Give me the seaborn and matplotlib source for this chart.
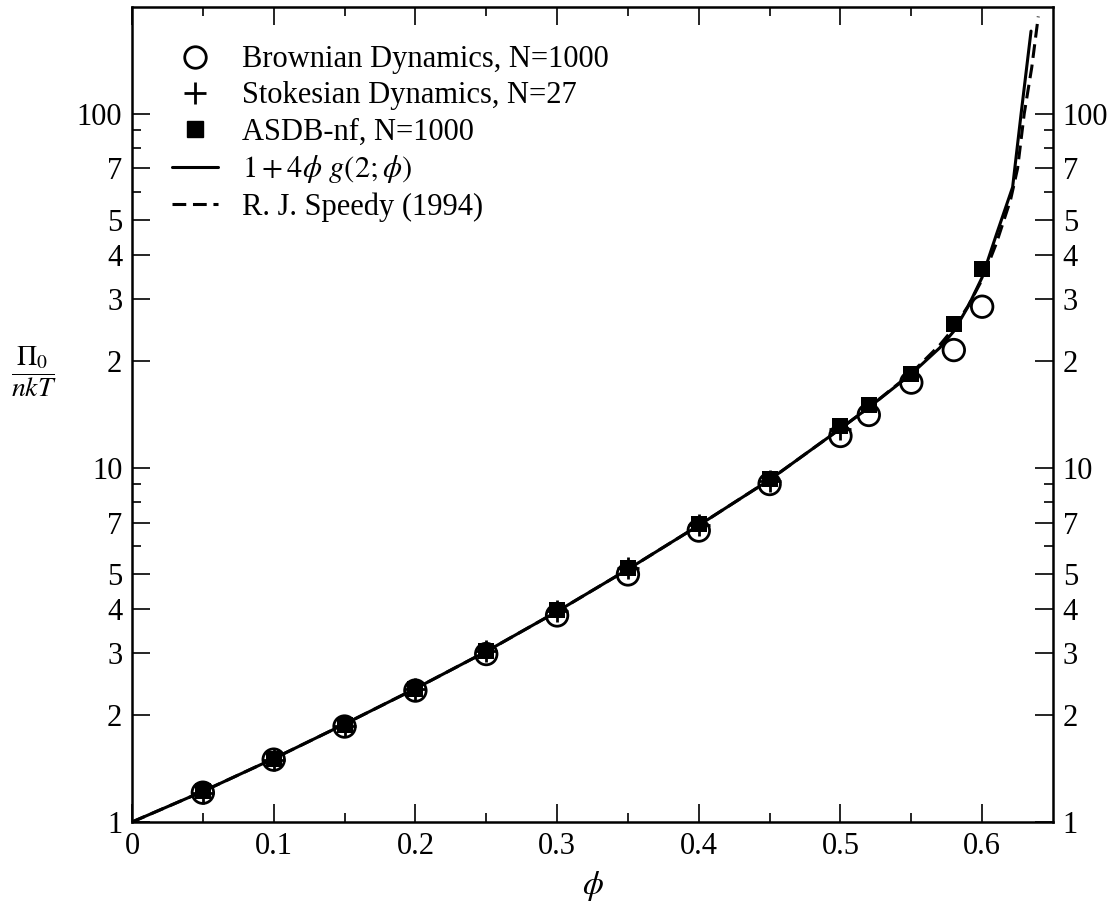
import numpy as np
import pandas as pd
import matplotlib
matplotlib.use("Agg")
import matplotlib.pyplot as plt
from matplotlib.lines import Line2D
import seaborn as sns

# ---- data ----
phi_bd = [0.05, 0.10, 0.15, 0.20, 0.25, 0.30, 0.35, 0.40, 0.45, 0.50, 0.52, 0.55, 0.58, 0.60]
p_bd = [1.21, 1.50, 1.86, 2.35, 2.98, 3.83, 5.00, 6.65, 9.00, 12.3, 14.1, 17.4, 21.5, 28.5]

phi_sd = [0.05, 0.10, 0.15, 0.20, 0.25, 0.30, 0.35, 0.40, 0.45, 0.50]
p_sd = [1.21, 1.50, 1.87, 2.37, 3.03, 3.95, 5.20, 6.90, 9.20, 12.9]

phi_asdb = [0.05, 0.10, 0.15, 0.20, 0.25, 0.30, 0.35, 0.40, 0.45, 0.50, 0.52, 0.55, 0.58, 0.60]
p_asdb = [1.22, 1.51, 1.88, 2.38, 3.03, 3.98, 5.22, 6.95, 9.30, 13.1, 15.0, 18.4, 25.5, 36.4]

phi_theory = [0.0, 0.05, 0.10, 0.15, 0.20, 0.25, 0.30, 0.35, 0.40, 0.45, 0.50, 0.52, 0.55,
              0.57, 0.58, 0.59, 0.60, 0.61, 0.6215, 0.6275, 0.6345]
p_theory = [1.0, 1.22, 1.51, 1.89, 2.38, 3.03, 3.93, 5.17, 6.88, 9.25, 12.9, 14.8, 18.4,
            21.8, 24.3, 28.5, 34.5, 45.5, 62.0, 100.0, 171.0]

phi_speedy = [0.0, 0.05, 0.10, 0.15, 0.20, 0.25, 0.30, 0.35, 0.40, 0.45, 0.50, 0.52, 0.55,
              0.57, 0.58, 0.59, 0.60, 0.61, 0.62, 0.625, 0.6297, 0.635, 0.6396]
p_speedy = [1.0, 1.22, 1.51, 1.89, 2.38, 3.03, 3.93, 5.17, 6.88, 9.25, 12.9, 14.8, 18.5,
            22.2, 24.8, 28.6, 34.0, 43.0, 57.0, 70.0, 100.0, 135.0, 188.0]

xtick_vals = [0, 0.1, 0.2, 0.3, 0.4, 0.5, 0.6]
xtick_labels = ["0", "0.1", "0.2", "0.3", "0.4", "0.5", "0.6"]
ytick_vals = [1, 2, 3, 4, 5, 7, 10, 20, 30, 40, 50, 70, 100]
ytick_labels = ["1", "2", "3", "4", "5", "7", "10", "2", "3", "4", "5", "7", "100"]
yminor_vals = [6, 8, 9, 60, 80, 90]

labels = ["Brownian Dynamics, N=1000", "Stokesian Dynamics, N=27", "ASDB-nf, N=1000",
          r"$1 + 4\phi\ g(2;\phi)$", "R. J. Speedy (1994)"]

# ---- style ----
sns.set_theme(style="ticks")
plt.rcParams["font.family"] = ["Liberation Serif", "DejaVu Serif"]
plt.rcParams["mathtext.fontset"] = "stix"
plt.rcParams["axes.linewidth"] = 1.8
plt.rcParams["text.color"] = "black"
plt.rcParams["axes.labelcolor"] = "black"
plt.rcParams["xtick.color"] = "black"
plt.rcParams["ytick.color"] = "black"
plt.rcParams["axes.edgecolor"] = "black"

fig = plt.figure(figsize=(11.19, 9.05), dpi=100)
ax = fig.add_axes([132 / 1119, 1 - 822 / 905, (1053 - 132) / 1119, (822 - 7) / 905])
ax.set_yscale("log")

df_th = pd.DataFrame({"phi": phi_theory, "p": p_theory})
df_sp = pd.DataFrame({"phi": phi_speedy, "p": p_speedy})
sns.lineplot(data=df_sp, x="phi", y="p", ax=ax, color="black", lw=2.2,
             sort=False, estimator=None, linestyle=(0, (4.5, 2.2)))
sns.lineplot(data=df_th, x="phi", y="p", ax=ax, color="black", lw=2.2,
             sort=False, estimator=None)

sns.scatterplot(x=phi_bd, y=p_bd, ax=ax, marker="o", s=15.5 ** 2,
                facecolors="none", edgecolor="black", linewidth=2.0, zorder=3)
sns.scatterplot(x=phi_asdb, y=p_asdb, ax=ax, marker="s", s=11.5 ** 2,
                color="black", edgecolor="black", linewidth=0, zorder=4)
sns.scatterplot(x=phi_sd, y=p_sd, ax=ax, marker="+", s=16 ** 2,
                color="black", linewidth=2.0, zorder=5)

ax.set_xlim(0, 0.65)
ax.set_ylim(1, 200)

ax.set_xticks(xtick_vals)
ax.set_xticklabels(xtick_labels)
ax.set_xticks(np.arange(0.05, 0.65, 0.1), minor=True)
ax.set_yticks(ytick_vals)
ax.set_yticklabels(ytick_labels)
ax.set_yticks(yminor_vals, minor=True)
ax.yaxis.set_minor_formatter(matplotlib.ticker.NullFormatter())

ax.tick_params(which="both", direction="in", top=True, right=True,
               labelright=True, labelsize=22, width=1.2, color="black",
               labelcolor="black")
ax.tick_params(which="major", length=13)
ax.tick_params(which="minor", length=6.5)
ax.tick_params(axis="y", which="major", pad=7)
ax.tick_params(axis="x", which="major", pad=7)
for sp in ax.spines.values():
    sp.set_linewidth(1.8)
    sp.set_color("black")

ax.set_xlabel(r"$\phi$", fontsize=24, color="black")
ax.xaxis.set_label_coords(0.5, -0.058)
ax.set_ylabel(r"$\dfrac{\Pi_0}{nkT}$", fontsize=20, rotation=0, color="black")
ax.yaxis.label.set_va("center")
ax.yaxis.set_label_coords(-0.107, 0.552)

handles = [
    Line2D([], [], marker="o", ls="none", mfc="none", mec="black", mew=2.0, ms=15.5),
    Line2D([], [], marker="+", ls="none", color="black", mew=2.0, ms=16),
    Line2D([], [], marker="s", ls="none", color="black", ms=11.5),
    Line2D([], [], color="black", lw=2.2),
    Line2D([], [], color="black", lw=2.2, linestyle=(0, (4.5, 2.2))),
]
leg = ax.legend(handles, labels, loc="upper left", frameon=False, fontsize=22,
                handlelength=1.5, handletextpad=0.8, labelspacing=0.23,
                borderaxespad=0.0, bbox_to_anchor=(0.030, 0.968))
for t in leg.get_texts():
    t.set_color("black")

fig.savefig("out.png", dpi=100)
